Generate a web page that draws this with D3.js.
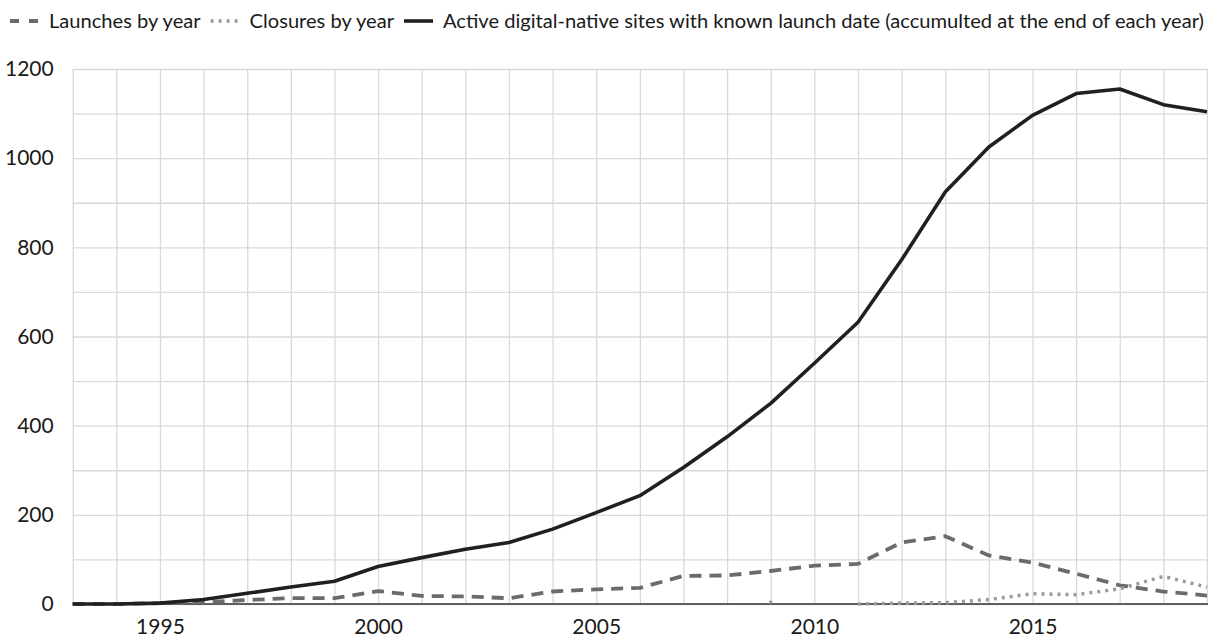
<!DOCTYPE html>
<html>
<head>
<meta charset="utf-8">
<script src="https://cdn.jsdelivr.net/npm/d3@7"></script>
<style>
  body { margin: 0; background: #fff; }
  svg { display: block; font-family: Lato, "Open Sans", sans-serif; }
  .grid line { stroke: #d9d9d9; stroke-width: 1.3; }
  .grid path { display: none; }
  .tick text { fill: #1a1a1a; }
</style>
</head>
<body>
<div id="chart"></div>
<script>
// Chart data
const years = d3.range(1993, 2020);
const launches = [0, 0, 2, 4, 9, 13, 13, 29, 18, 17, 13, 28, 33, 36, 63, 64, 74, 86, 90, 138, 152, 109, 93, 68, 42, 28, 19];
const closures = [null, null, null, null, null, null, null, null, null, null, null, null, null, null, null, null, 1, null, 0, 2, 3, 10, 23, 21, 34, 62, 38];
const active = [0, 0, 2, 10, 24, 38, 51, 84, 104, 123, 138, 168, 205, 243, 306, 375, 450, 540, 632, 772, 924, 1025, 1096, 1145, 1155, 1120, 1104];
const xTickLabels = [1995, 2000, 2005, 2010, 2015];
const yTicks = d3.range(0, 1201, 200);
const legendLabels = [
  "Launches by year",
  "Closures by year",
  "Active digital-native sites with known launch date (accumulted at the end of each year)"
];

// dimensions
const width = 1208;
const height = 637;
const margin = {left: 72.7, right: 1, top: 69, bottom: 33};

const svg = d3.select("#chart")
  .append("svg")
  .attr("width", width)
  .attr("height", height)
  .attr("viewBox", [0, 0, width, height]);

// scales
const xScale = d3.scaleLinear()
  .domain([1993, 2019])
  .range([margin.left, width - margin.right]);

const yScale = d3.scaleLinear()
  .domain([0, 1200])
  .range([height - margin.bottom, margin.top]);

// gridlines: every year, every 100
svg.append("g")
  .attr("class", "grid")
  .attr("transform", `translate(0,${height - margin.bottom})`)
  .call(d3.axisBottom(xScale)
    .tickValues(years)
    .tickSize(-(height - margin.top - margin.bottom))
    .tickFormat(""));

svg.append("g")
  .attr("class", "grid")
  .attr("transform", `translate(${margin.left},0)`)
  .call(d3.axisLeft(yScale)
    .tickValues(d3.range(0, 1201, 100))
    .tickSize(-(width - margin.left - margin.right))
    .tickFormat(""));

// y axis labels
svg.append("g")
  .attr("transform", `translate(${margin.left},0)`)
  .call(d3.axisLeft(yScale).tickValues(yTicks).tickFormat(d3.format("d")).tickSize(0).tickPadding(19))
  .attr("font-family", null)
  .attr("font-size", "21px")
  .call(g => g.select(".domain").remove());

// x axis labels
svg.append("g")
  .attr("transform", `translate(0,${height - margin.bottom})`)
  .call(d3.axisBottom(xScale).tickValues(xTickLabels).tickFormat(d3.format("d")).tickSize(0).tickPadding(15))
  .attr("font-family", null)
  .attr("font-size", "21px")
  .call(g => g.select(".domain").remove());

// baseline
svg.append("line")
  .attr("x1", xScale(1993))
  .attr("x2", width)
  .attr("y1", yScale(0))
  .attr("y2", yScale(0))
  .attr("stroke", "#5f5f5f")
  .attr("stroke-width", 2);

// lines
const line = d3.line()
  .defined(d => d[1] != null)
  .x(d => xScale(d[0]))
  .y(d => yScale(d[1]));

const styles = [
  {values: launches, color: "#6b6b6e", width: 3.8, dash: "12,8"},
  {values: closures, color: "#9b9b9b", width: 3.5, dash: "3,5"},
  {values: active, color: "#231f20", width: 3.6, dash: null}
];

styles.forEach(s => {
  const pts = years.map((y, i) => [y, s.values[i]]);
  svg.append("path")
    .datum(pts)
    .attr("fill", "none")
    .attr("stroke", s.color)
    .attr("stroke-width", s.width)
    .attr("stroke-linejoin", "round")
    .attr("stroke-dasharray", s.dash)
    .attr("d", line);

  // lone points (no neighbour) get a tiny dot
  pts.forEach((p, i) => {
    if (p[1] == null) return;
    const prev = i > 0 ? s.values[i - 1] : null;
    const next = i < pts.length - 1 ? s.values[i + 1] : null;
    if (prev == null && next == null) {
      svg.append("rect")
        .attr("x", xScale(p[0]) - 1.5)
        .attr("y", yScale(p[1]) - 3)
        .attr("width", 3)
        .attr("height", 3)
        .attr("fill", s.color);
    }
  });
});

// legend: sample, gap, label, gap, next sample ...
const legendStart = 10;
const legendEnd = 1205;
const sampleW = 29;
const gap = 10;
const legend = svg.append("g").attr("font-size", "16px");

const legendTexts = legendLabels.map(label => legend.append("text")
  .attr("y", 28)
  .attr("fill", "#1a1a1a")
  .text(label));

// fit font so the row spans the same width as the original
const fixedW = legendLabels.length * (sampleW + gap) + (legendLabels.length - 1) * gap;
const textW = d3.sum(legendTexts, t => t.node().getComputedTextLength());
const fontSize = 16 * (legendEnd - legendStart - fixedW) / textW;
legend.attr("font-size", fontSize + "px");

let cursor = legendStart;
legendTexts.forEach((t, i) => {
  const s = styles[i];
  legend.append("line")
    .attr("x1", cursor)
    .attr("x2", cursor + sampleW)
    .attr("y1", 21)
    .attr("y2", 21)
    .attr("stroke", s.color)
    .attr("stroke-width", s.width)
    .attr("stroke-dasharray", i === 0 ? "9,10" : s.dash);
  cursor += sampleW + gap;
  t.attr("x", cursor);
  cursor += t.node().getComputedTextLength() + gap;
});
</script>
</body>
</html>
